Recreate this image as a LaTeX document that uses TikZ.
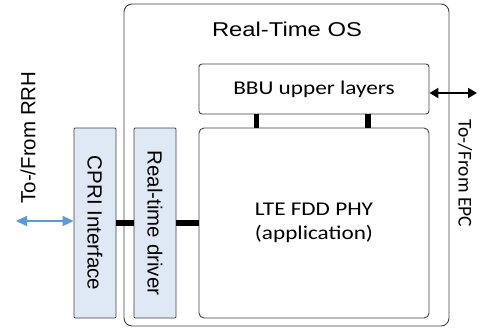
\documentclass[tikz,border=0pt]{standalone}
\usepackage{fontspec}
\setmainfont{Liberation Sans}
\newfontfamily\calib{Carlito}
\usepackage{tikz}
\usetikzlibrary{arrows.meta}
\definecolor{boxline}{RGB}{64,64,64}
\definecolor{ifblue}{RGB}{222,233,245}
\definecolor{arrblue}{RGB}{91,155,213}
\newcommand{\hw}[1]{\scalebox{1.19}[1]{#1}}

\begin{document}
\begin{tikzpicture}[x=1pt,y=-1pt,
  osbox/.style={draw=boxline, line width=0.9pt, rounded corners=8pt},
  swbox/.style={draw=boxline, line width=0.9pt, rounded corners=3pt, font=\calib\fontsize{19.5}{24}\selectfont, align=center},
  ifbox/.style={draw=boxline, line width=0.9pt, fill=ifblue, rounded corners=1pt, minimum width=42pt, minimum height=190pt, font=\fontsize{20.5}{24}\selectfont},
  bus/.style={line width=5.5pt}]
\useasboundingbox (0,0) rectangle (481,330);
% OS frame and title
\node [osbox, minimum width=325pt, minimum height=322pt] (os) at (286.5,165) {};
\node [font=\fontsize{20}{24}\selectfont] (ostitle) at (287,29) {\hw{Real-Time OS}};
% software blocks
\node [swbox, minimum width=230pt, minimum height=50pt] (bbu) at (314,89) {\hw{BBU upper layers}};
\node [swbox, rounded corners=5pt, minimum width=230pt, minimum height=190pt] (lte) at (314,223) {\hw{LTE FDD PHY}\\\hw{(application)}};
% interface and driver
\node [ifbox] (cpri) at (95,223) {\rotatebox{-90}{CPRI Interface}};
\node [ifbox] (drv) at (155,223) {\rotatebox{-90}{Real-time driver}};
% busses
\draw [bus] (cpri.east) -- (drv.west);
\draw [bus] (drv.east) -- (lte.west);
\draw [bus] ([xshift=-57.5pt]bbu.south) -- ([xshift=-57.5pt]lte.north);
\draw [bus] ([xshift=54pt]bbu.south) -- ([xshift=54pt]lte.north);
% external links
\coordinate (rrh) at (16,221);
\coordinate (epc) at (477,93);
\draw [arrblue, line width=2pt, {Triangle[length=11pt,width=10pt]}-{Triangle[length=11pt,width=10pt]}] (rrh) -- (rrh -| cpri.west);
\draw [black, line width=2pt, {Triangle[length=9pt,width=10pt]}-{Triangle[length=9pt,width=10pt]}] (bbu.east |- epc) -- (epc);
\node [font=\fontsize{20.5}{24}\selectfont, rotate=90] (rrhlabel) at (28,137.5) {To-/From RRH};
\node [font=\calib\fontsize{19.5}{24}\selectfont, rotate=-90] (epclabel) at (465,173.5) {To-/From EPC};
\end{tikzpicture}
\end{document}
